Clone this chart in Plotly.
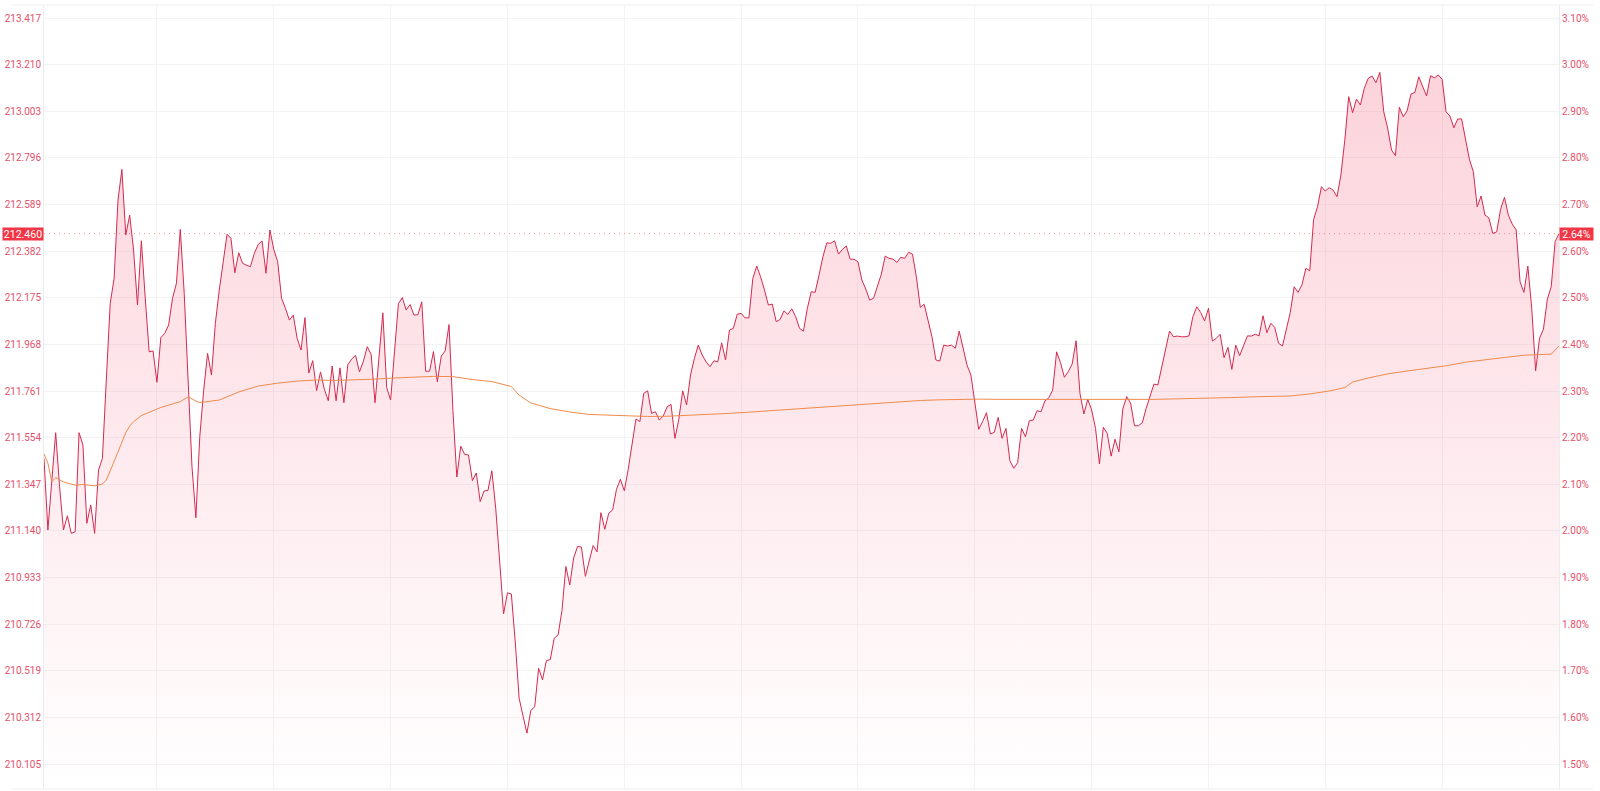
import plotly.graph_objects as go

# ---- data ----
price = [
    211.462, 211.144, 211.361, 211.576, 211.336, 211.144, 211.207, 211.129, 211.136, 211.576,
    211.521, 211.174, 211.255, 211.129, 211.410, 211.462, 211.810, 212.150, 212.261, 212.609,
    212.745, 212.454, 212.542, 212.387, 212.143, 212.428, 212.173, 211.935, 211.939, 211.800,
    211.998, 212.017, 212.054, 212.173, 212.239, 212.479, 212.195, 211.796, 211.425, 211.198,
    211.558, 211.765, 211.928, 211.832, 212.062, 212.209, 212.343, 212.457, 212.439, 212.286,
    212.375, 212.328, 212.320, 212.313, 212.372, 212.412, 212.427, 212.284, 212.476, 212.390,
    212.335, 212.173, 212.128, 212.076, 212.098, 211.995, 211.943, 212.087, 211.841, 211.896,
    211.763, 211.846, 211.768, 211.718, 211.872, 211.718, 211.864, 211.709, 211.877, 211.903,
    211.919, 211.846, 211.893, 211.958, 211.924, 211.709, 211.908, 212.108, 211.776, 211.721,
    211.935, 212.149, 212.176, 212.121, 212.145, 212.098, 212.100, 212.157, 211.849, 211.849,
    211.936, 211.802, 211.916, 211.939, 212.056, 211.674, 211.379, 211.516, 211.480, 211.477,
    211.363, 211.397, 211.270, 211.317, 211.320, 211.407, 211.238, 210.989, 210.771, 210.865,
    210.860, 210.647, 210.397, 210.318, 210.242, 210.343, 210.359, 210.530, 210.479, 210.564,
    210.569, 210.663, 210.678, 210.787, 210.982, 210.900, 211.020, 211.071, 211.068, 210.938,
    211.005, 211.075, 211.047, 211.221, 211.147, 211.218, 211.233, 211.325, 211.369, 211.318,
    211.413, 211.536, 211.637, 211.625, 211.751, 211.762, 211.662, 211.669, 211.632, 211.650,
    211.691, 211.702, 211.551, 211.636, 211.762, 211.699, 211.832, 211.906, 211.965, 211.921,
    211.891, 211.869, 211.895, 211.891, 211.975, 211.899, 212.032, 212.039, 212.102, 212.106,
    212.086, 212.086, 212.261, 212.316, 212.268, 212.209, 212.143, 212.147, 212.069, 212.079,
    212.117, 212.101, 212.126, 212.091, 212.039, 212.027, 212.128, 212.202, 212.199, 212.276,
    212.357, 212.419, 212.417, 212.428, 212.369, 212.390, 212.405, 212.346, 212.346, 212.335,
    212.254, 212.214, 212.165, 212.173, 212.224, 212.280, 212.360, 212.350, 212.347, 212.332,
    212.355, 212.350, 212.377, 212.369, 212.268, 212.133, 212.146, 212.069, 212.002, 211.899,
    211.894, 211.965, 211.961, 211.965, 211.951, 212.027, 211.951, 211.876, 211.832, 211.713,
    211.591, 211.625, 211.665, 211.570, 211.578, 211.644, 211.551, 211.595, 211.452, 211.418,
    211.443, 211.595, 211.558, 211.629, 211.632, 211.674, 211.669, 211.717, 211.731, 211.765,
    211.935, 211.887, 211.822, 211.847, 211.881, 211.984, 211.751, 211.659, 211.724, 211.677,
    211.595, 211.437, 211.600, 211.573, 211.472, 211.547, 211.491, 211.681, 211.736, 211.708,
    211.607, 211.607, 211.620, 211.684, 211.736, 211.792, 211.788, 211.872, 211.951, 212.027,
    212.002, 212.005, 212.002, 212.002, 212.006, 212.091, 212.135, 212.110, 212.072, 212.128,
    211.983, 211.995, 212.013, 211.909, 211.955, 211.857, 211.965, 211.918, 211.962, 212.006,
    212.005, 212.013, 212.006, 212.095, 212.020, 212.062, 212.044, 211.973, 211.961, 212.029,
    212.110, 212.224, 212.199, 212.232, 212.306, 212.295, 212.523, 212.579, 212.668, 212.649,
    212.664, 212.653, 212.624, 212.720, 212.875, 213.068, 212.997, 213.057, 213.031, 213.105,
    213.149, 213.160, 213.130, 213.176, 213.001, 212.929, 212.831, 212.806, 213.021, 212.979,
    213.005, 213.080, 213.087, 213.156, 213.115, 213.071, 213.161, 213.152, 213.164, 213.145,
    213.001, 212.982, 212.930, 212.969, 212.969, 212.875, 212.790, 212.735, 212.579, 212.627,
    212.542, 212.530, 212.461, 212.468, 212.568, 212.621, 212.542, 212.502, 212.476, 212.246,
    212.199, 212.316, 212.128, 211.851, 211.995, 212.035, 212.168, 212.224, 212.424, 212.460,
]
bars = list(range(len(price)))

ma_bar = [0, 1, 2, 3, 5, 8, 10, 13, 15, 16, 17, 18, 19, 20, 21, 22, 23, 25, 27, 30, 35, 37,
          39, 40, 45, 50, 55, 60, 65, 70, 75,
          80, 85, 90, 95, 100, 105, 110, 115, 120, 122, 125, 130, 135, 140, 145, 150, 155,
          160, 165, 170, 175, 180, 185, 190, 195, 200, 205, 210, 215, 220, 225, 230, 235,
          240, 245, 250, 255, 260, 265, 270, 275, 280, 285, 290, 295, 300, 305, 310, 315,
          320, 325, 330, 334, 336, 340, 345, 350, 355, 360, 365, 370, 375, 380, 385, 387, 389]
ma_val = [211.483, 211.441, 211.358, 211.377, 211.357, 211.343, 211.346, 211.340, 211.348,
          211.366, 211.406, 211.447, 211.492, 211.537, 211.576, 211.605, 211.625, 211.652,
          211.667, 211.688, 211.714, 211.735, 211.717, 211.710, 211.721, 211.757, 211.783,
          211.796, 211.805, 211.810, 211.808, 211.810, 211.814, 211.819, 211.822, 211.826,
          211.825, 211.812, 211.803, 211.781, 211.743, 211.708, 211.683, 211.668, 211.657,
          211.654, 211.649, 211.648, 211.649, 211.652, 211.657, 211.661, 211.666, 211.672,
          211.679, 211.685, 211.690, 211.694, 211.702, 211.706, 211.712, 211.719, 211.722,
          211.724, 211.725, 211.724, 211.724, 211.724, 211.725, 211.725, 211.724, 211.722,
          211.722, 211.724, 211.726, 211.727, 211.730, 211.732, 211.735, 211.737, 211.739,
          211.748, 211.761, 211.776, 211.801, 211.819, 211.837, 211.850, 211.862, 211.873,
          211.889, 211.901, 211.910, 211.920, 211.924, 211.925, 211.961]

price_ticks = [210.105, 210.312, 210.519, 210.726, 210.933, 211.140, 211.347, 211.554, 211.761,
               211.968, 212.175, 212.382, 212.589, 212.796, 213.003, 213.210, 213.417]
pct_ticks = [1.5, 1.6, 1.7, 1.8, 1.9, 2.0, 2.1, 2.2, 2.3, 2.4, 2.5, 2.6, 2.7, 2.8, 2.9, 3.0, 3.1]
last_price = 212.460
last_pct_label = "2.64%"

# ---- styling ----
RED = "#f23645"
LINE = "#d42a50"
ORANGE = "#f08a4b"
LABEL = "#e4506a"
GRID = "#f3f3f3"
FONT = "Roboto"
FS = 10

y_lo, y_hi = 209.994, 213.475


def to_pct(v):
    return 1.5 + (v - 210.105) / 2.07


fig = go.Figure()
fig.add_trace(go.Scatter(
    x=bars, y=price, mode="lines",
    line=dict(color=LINE, width=1),
    fill="tozeroy",
    fillgradient=dict(type="vertical",
                      colorscale=[[0, "rgba(242,54,92,0.0)"], [1, "rgba(242,54,92,0.22)"]],
                      start=y_lo, stop=max(price)),
    hoverinfo="skip", showlegend=False,
))
fig.add_trace(go.Scatter(
    x=ma_bar, y=ma_val, mode="lines",
    line=dict(color=ORANGE, width=1),
    hoverinfo="skip", showlegend=False,
))
fig.add_trace(go.Scatter(
    x=[None], y=[None], yaxis="y2", mode="lines", hoverinfo="skip", showlegend=False,
))

fig.update_layout(
    width=1600, height=791,
    margin=dict(l=44, r=41, t=5, b=2, autoexpand=False),
    paper_bgcolor="white", plot_bgcolor="white",
    font=dict(family=FONT, size=FS, color=LABEL),
    xaxis=dict(range=[0, len(price) - 1], tick0=29, dtick=30, showticklabels=False,
               showgrid=True, gridcolor=GRID, gridwidth=1, zeroline=False, showline=False,
               ticks="", automargin=False),
    yaxis=dict(range=[y_lo, y_hi], tickmode="array", tickvals=price_ticks,
               ticktext=[f"{v:.3f}" for v in price_ticks],
               showgrid=True, gridcolor=GRID, zeroline=False, showline=True,
               linecolor="#ececec", linewidth=1, ticks="", ticklabelstandoff=0,
               automargin=False,
               tickfont=dict(family=FONT, size=FS, color=LABEL)),
    yaxis2=dict(overlaying="y", side="right", range=[to_pct(y_lo), to_pct(y_hi)],
                tickmode="array", tickvals=pct_ticks,
                ticktext=[f"{v:.2f}%" for v in pct_ticks],
                showgrid=False, zeroline=False, showline=True, linecolor="#ececec",
                ticks="", ticklabelstandoff=0, automargin=False,
                tickfont=dict(family=FONT, size=FS, color=LABEL)),
    shapes=[
        dict(type="line", xref="paper", yref="y", x0=0, x1=1, y0=last_price, y1=last_price,
             line=dict(color="rgba(242,54,69,0.55)", width=1, dash="1px,4px")),
        dict(type="line", xref="paper", yref="paper", x0=-0.021, x1=1.0225, y0=1, y1=1,
             line=dict(color="#eeeeee", width=1)),
        dict(type="line", xref="paper", yref="paper", x0=-0.021, x1=1.0225, y0=0, y1=0,
             line=dict(color="#eeeeee", width=1)),
    ],
    annotations=[
        dict(xref="paper", yref="y", x=0, y=last_price, xanchor="right", yanchor="middle",
             text=f"{last_price:.3f}", showarrow=False, bgcolor=RED, width=40, height=12,
             borderpad=0, font=dict(family=FONT, size=10.5, color="white")),
        dict(xref="paper", yref="y", x=1, y=last_price, xanchor="left", yanchor="middle",
             text=last_pct_label, showarrow=False, bgcolor=RED, width=33, height=12,
             borderpad=0, font=dict(family=FONT, size=10.5, color="white")),
    ],
)

fig.write_html("out.html", config={"displayModeBar": False},
               post_script="document.body.style.margin='0';")
